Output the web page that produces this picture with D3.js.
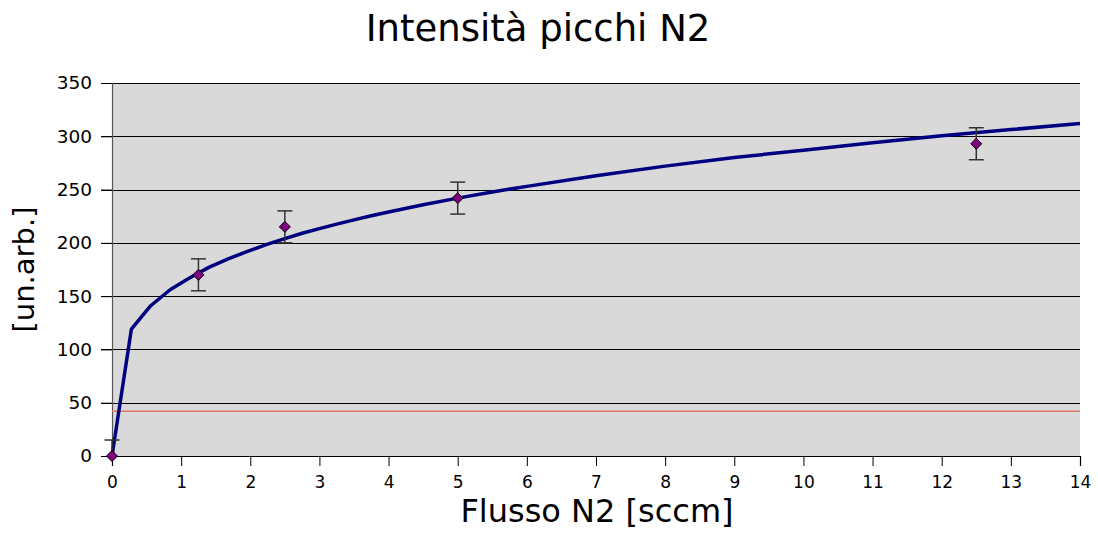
<!DOCTYPE html>
<html>
<head>
<meta charset="utf-8">
<script src="https://cdn.jsdelivr.net/npm/d3@7"></script>
<style>
  html, body { margin: 0; padding: 0; background: #ffffff; }
  svg { display: block; font-family: "DejaVu Sans", sans-serif; }
</style>
</head>
<body>
<svg id="chart" width="1098" height="534"></svg>
<script>
// Measured peak intensities vs N2 flow
const flowValues = [0, 1.25, 2.5, 5, 12.5];
const intensityValues = [0, 170, 215, 242, 293];
const intensityErrors = [15, 15, 15, 15, 15];

// Fitted trend (sampled)
const fitFlow = [0, 0.28, 0.56, 0.84, 1.12, 1.4, 1.68, 1.96, 2.24, 2.5, 2.75, 3, 3.25, 3.5, 3.75, 4, 4.5, 5, 5.5, 6, 7, 8, 9, 10, 11, 12, 13, 14];
const fitIntensity = [0, 119, 141, 156, 167, 177, 185, 192, 198.5, 204, 209, 213.4, 217.6, 221.6, 225.4, 229, 235.8, 242, 247.8, 253, 263, 272, 280, 287, 294, 300.4, 306.3, 312];

// Threshold level
const thresholdValue = 42;

const xTicks = [0, 1, 2, 3, 4, 5, 6, 7, 8, 9, 10, 11, 12, 13, 14];
const yTicks = [0, 50, 100, 150, 200, 250, 300, 350];

const title = "Intensità picchi N2";
const xTitle = "Flusso N2 [sccm]";
const yTitle = "[un.arb.]";

const svg = d3.select("#chart");
const margin = { left: 112, right: 18, top: 83, bottom: 78 };
const W = 1098, H = 534;
const plotW = W - margin.left - margin.right;
const plotH = H - margin.top - margin.bottom;

const x = d3.scaleLinear().domain([0, 14]).range([margin.left, margin.left + plotW]);
const y = d3.scaleLinear().domain([0, 350]).range([margin.top + plotH, margin.top]);

// Plot background
svg.append("rect")
  .attr("x", x(0)).attr("y", y(350))
  .attr("width", x(14) - x(0)).attr("height", y(0) - y(350))
  .attr("fill", "#d9d9d9");

// Horizontal gridlines with left tick stubs
svg.append("g").selectAll("line")
  .data(yTicks.filter(d => d > 0))
  .join("line")
  .attr("x1", x(0) - 11).attr("x2", x(14))
  .attr("y1", d => Math.round(y(d)) + 0.5).attr("y2", d => Math.round(y(d)) + 0.5)
  .attr("stroke", "#000").attr("stroke-width", 1);

// Y axis
const yAxis = d3.axisLeft(y).tickValues(yTicks).tickSize(11).tickPadding(9);
const gy = svg.append("g").attr("transform", `translate(${x(0)},0)`).call(yAxis);
gy.select(".domain").attr("stroke", "#555").attr("stroke-width", 1.2);
gy.selectAll(".tick line").attr("stroke", "#000");
gy.selectAll("text").attr("font-size", 18.5).attr("fill", "#000")
  .attr("font-family", "DejaVu Sans, sans-serif");

// X axis
const xAxis = d3.axisBottom(x).tickValues(xTicks).tickSize(10).tickPadding(10).tickFormat(d3.format("d"));
const gx = svg.append("g").attr("transform", `translate(0,${y(0)})`).call(xAxis);
gx.select(".domain").attr("stroke", "#000").attr("stroke-width", 1.2);
gx.selectAll(".tick line").attr("stroke", "#000");
gx.selectAll("text").attr("font-size", 17).attr("fill", "#000")
  .attr("font-family", "DejaVu Sans, sans-serif");

// Threshold line
svg.append("line")
  .attr("x1", x(0)).attr("x2", x(14))
  .attr("y1", y(thresholdValue)).attr("y2", y(thresholdValue))
  .attr("stroke", "#e07a6a").attr("stroke-width", 1.5);

// Fitted curve
const fitData = fitFlow.map((f, i) => [f, fitIntensity[i]]);
svg.append("path")
  .datum(fitData)
  .attr("fill", "none")
  .attr("stroke", "#000080")
  .attr("stroke-width", 3.5)
  .attr("stroke-linejoin", "round")
  .attr("d", d3.line().x(d => x(d[0])).y(d => y(d[1])).curve(d3.curveLinear));

// Error bars
const pts = flowValues.map((f, i) => ({ f, v: intensityValues[i], e: intensityErrors[i] }));
const eb = svg.append("g").attr("stroke", "#333").attr("stroke-width", 1.5);
eb.selectAll(".stem").data(pts).join("line")
  .attr("x1", d => x(d.f)).attr("x2", d => x(d.f))
  .attr("y1", d => y(d.v + d.e)).attr("y2", d => y(Math.max(0, d.v - d.e)));
eb.selectAll(".capTop").data(pts).join("line")
  .attr("x1", d => x(d.f) - 7.5).attr("x2", d => x(d.f) + 7.5)
  .attr("y1", d => y(d.v + d.e)).attr("y2", d => y(d.v + d.e));
eb.selectAll(".capBot").data(pts.filter(d => d.v - d.e >= 0)).join("line")
  .attr("x1", d => x(d.f) - 7.5).attr("x2", d => x(d.f) + 7.5)
  .attr("y1", d => y(d.v - d.e)).attr("y2", d => y(d.v - d.e));

// Diamond markers
svg.append("g").selectAll("path").data(pts).join("path")
  .attr("transform", d => `translate(${x(d.f)},${y(d.v)})`)
  .attr("d", "M0,-5.5L5.5,0L0,5.5L-5.5,0Z")
  .attr("fill", "#800080")
  .attr("stroke", "#000").attr("stroke-width", 1);

// Titles
svg.append("text")
  .attr("x", 538).attr("y", 41)
  .attr("text-anchor", "middle")
  .attr("font-size", 37)
  .attr("fill", "#000")
  .text(title);

svg.append("text")
  .attr("x", (x(0) + x(14)) / 2 + 1).attr("y", 522)
  .attr("text-anchor", "middle")
  .attr("font-size", 32)
  .attr("fill", "#000")
  .text(xTitle);

svg.append("text")
  .attr("transform", `translate(34,${(y(0) + y(350)) / 2}) rotate(-90)`)
  .attr("text-anchor", "middle")
  .attr("font-size", 29)
  .attr("fill", "#000")
  .text(yTitle);
</script>
</body>
</html>
